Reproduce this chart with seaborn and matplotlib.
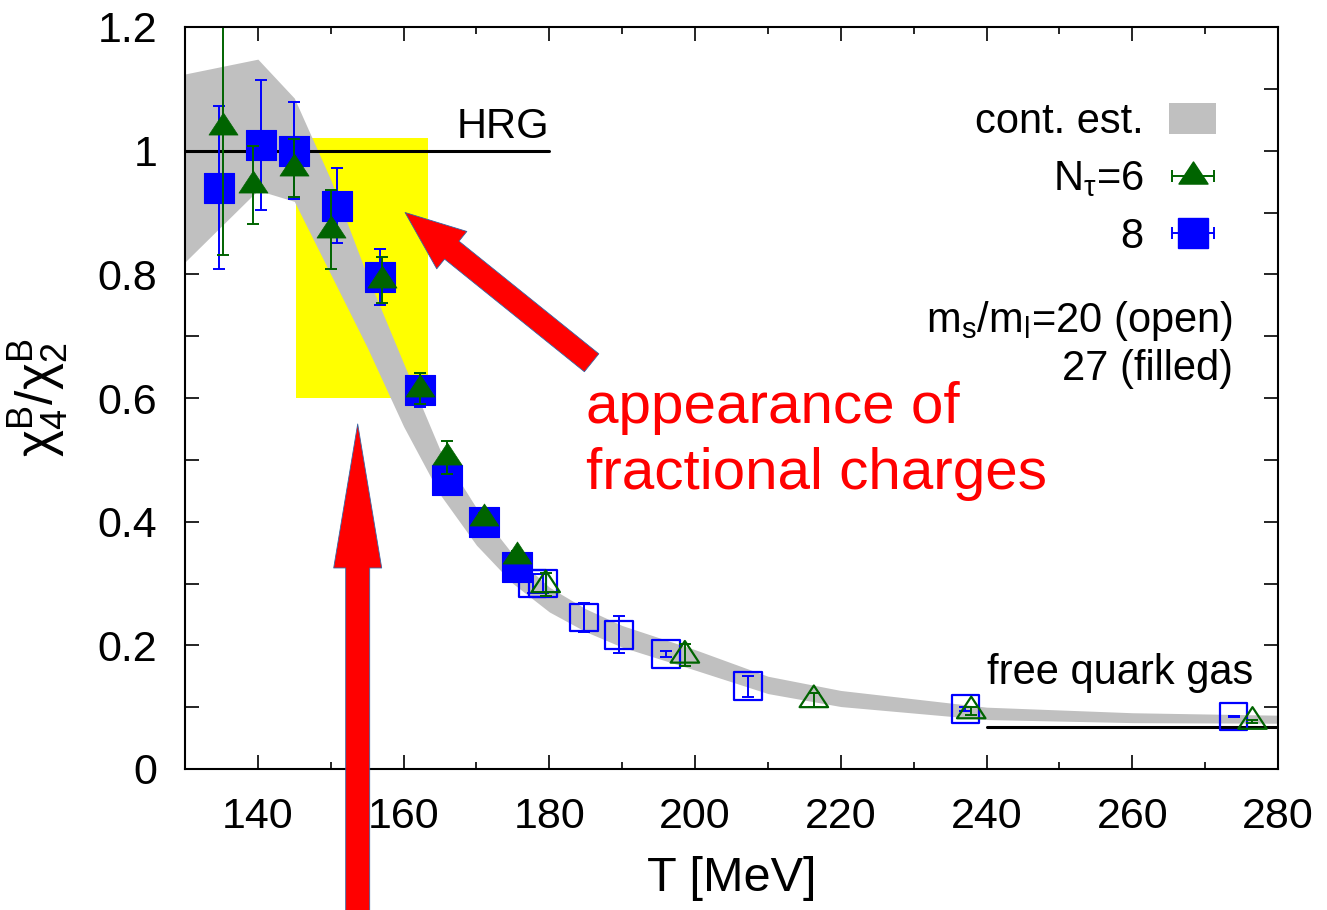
import numpy as np
import matplotlib
matplotlib.use("Agg")
import matplotlib.pyplot as plt
import seaborn as sns
from matplotlib.path import Path
from matplotlib.patches import Rectangle, FancyArrowPatch, Patch
from matplotlib.ticker import MultipleLocator, FuncFormatter

# ---------------- data ----------------
# continuum estimate (band edges)
band_T = [130, 140, 145, 150, 155, 160, 165, 170, 175, 180, 185, 190, 200, 210, 220, 240, 260, 280]
band_lo = [0.820, 0.936, 0.918, 0.800, 0.682, 0.554, 0.444, 0.362, 0.300, 0.254, 0.222, 0.197,
           0.160, 0.122, 0.101, 0.080, 0.075, 0.074]
band_hi = [1.124, 1.148, 1.085, 0.953, 0.798, 0.656, 0.516, 0.422, 0.347, 0.294, 0.259, 0.232,
           0.193, 0.150, 0.127, 0.100, 0.091, 0.087]

# N_tau = 8, m_s/m_l = 27 (filled squares)
T_n8_27 = [134.6, 140.4, 144.9, 150.9, 156.8, 162.25, 165.9, 171.0, 175.6]
chi_n8_27 = [0.940, 1.009, 1.000, 0.911, 0.796, 0.613, 0.468, 0.399, 0.326]
err_n8_27 = [0.132, 0.105, 0.078, 0.061, 0.045, 0.027, 0.010, 0.008, 0.008]

# N_tau = 6, m_s/m_l = 27 (filled triangles)
T_n6_27 = [135.2, 139.3, 145.0, 150.1, 157.1, 162.3, 165.9, 171.0, 175.6]
chi_n6_27 = [1.038, 0.944, 0.972, 0.872, 0.791, 0.615, 0.504, 0.406, 0.345]
err_n6_27 = [0.206, 0.063, 0.047, 0.064, 0.037, 0.025, 0.027, 0.008, 0.008]

# N_tau = 8, m_s/m_l = 20 (open squares)
T_n8_20 = [177.7, 179.1, 184.8, 189.6, 196.0, 207.3, 237.1, 273.9]
chi_n8_20 = [0.300, 0.300, 0.245, 0.217, 0.186, 0.134, 0.097, 0.085]
err_n8_20 = [0.015, 0.015, 0.023, 0.030, 0.005, 0.017, 0.003, 0.001]

# N_tau = 6, m_s/m_l = 20 (open triangles)
T_n6_20 = [179.5, 198.6, 216.3, 237.9, 276.5]
chi_n6_20 = [0.298, 0.184, 0.112, 0.094, 0.077]
err_n6_20 = [0.019, 0.018, 0.011, 0.007, 0.002]

# reference limits
hrg_T = [130, 180]
hrg_value = 1.0
sb_T = [240, 280]
sb_value = 0.0675

# highlighted temperature window
window_T = (145.2, 163.3)
window_chi = (0.60, 1.02)

# annotation arrows (tail, tip) in data units
arrow_diag = ((185.8, 0.657), (160.2, 0.900))
arrow_vert = ((153.7, -0.235), (153.7, 0.558))

# ---------------- style ----------------
sns.set_theme(style="ticks")
plt.rcParams["font.family"] = ["Liberation Sans", "DejaVu Sans"]
plt.rcParams["mathtext.fontset"] = "custom"
plt.rcParams["mathtext.rm"] = "Liberation Sans"
plt.rcParams["mathtext.it"] = "Liberation Sans:italic"
plt.rcParams["mathtext.bf"] = "Liberation Sans:bold"
plt.rcParams["text.color"] = "black"
plt.rcParams["axes.labelcolor"] = "black"
plt.rcParams["axes.edgecolor"] = "black"
plt.rcParams["xtick.color"] = "black"
plt.rcParams["ytick.color"] = "black"

BLUE = "#0000ff"
GREEN = "#006400"
GREY = "#c0c0c0"

fig = plt.figure(figsize=(13.27, 9.10), dpi=100, facecolor="white")
ax = fig.add_axes([185 / 1327, 141 / 910, 1093 / 1327, 742 / 910])

# flattened triangle marker, centred on its centroid
tri = Path([(0, 1.0), (-1, -0.52), (1, -0.52), (0, 1.0)], closed=True)

# highlighted window and continuum band
ax.add_patch(Rectangle((window_T[0], window_chi[0]), window_T[1] - window_T[0],
                       window_chi[1] - window_chi[0], facecolor="#ffff00",
                       edgecolor="none", zorder=1))
ax.fill_between(band_T, band_lo, band_hi, color=GREY, lw=0, zorder=2)

# HRG and free quark gas limits
ax.plot(hrg_T, [hrg_value] * len(hrg_T), color="black", lw=2.2, zorder=3)
ax.plot(sb_T, [sb_value] * len(sb_T), color="black", lw=2.2, zorder=3)

eb_kw = dict(fmt="none", elinewidth=1.4, capsize=4.3, capthick=1.4)

# filled symbols (m_s/m_l = 27)
sns.scatterplot(x=T_n8_27, y=chi_n8_27, marker="s", s=467, color=BLUE,
                edgecolor=BLUE, linewidth=0.8, ax=ax, zorder=4, legend=False)
ax.errorbar(T_n8_27, chi_n8_27, yerr=err_n8_27, ecolor=BLUE, zorder=5, **eb_kw)
sns.scatterplot(x=T_n6_27, y=chi_n6_27, marker=tri, s=437, color=GREEN,
                edgecolor=GREEN, linewidth=0.5, ax=ax, zorder=6, legend=False)
ax.errorbar(T_n6_27, chi_n6_27, yerr=err_n6_27, ecolor=GREEN, zorder=7, **eb_kw)

# open symbols (m_s/m_l = 20)
sns.scatterplot(x=T_n8_20, y=chi_n8_20, marker="s", s=400, color=BLUE,
                facecolor="none", edgecolor=BLUE, linewidth=1.6, ax=ax, zorder=8,
                legend=False)
ax.errorbar(T_n8_20, chi_n8_20, yerr=err_n8_20, ecolor=BLUE, zorder=9, **eb_kw)
sns.scatterplot(x=T_n6_20, y=chi_n6_20, marker=tri, s=420, color=GREEN,
                facecolor="none", edgecolor=GREEN, linewidth=1.6, ax=ax, zorder=10,
                legend=False)
ax.errorbar(T_n6_20, chi_n6_20, yerr=err_n6_20, ecolor=GREEN, zorder=11, **eb_kw)

# legend entries
h_band = Patch(facecolor=GREY, edgecolor="none")
h_n6 = ax.errorbar([np.nan], [np.nan], xerr=[1], marker=tri, markersize=20.9,
                   linestyle="none", color=GREEN, ecolor=GREEN, elinewidth=1.4,
                   capsize=4.3, capthick=1.4)
h_n8 = ax.errorbar([np.nan], [np.nan], xerr=[1], marker="s", markersize=21.6,
                   linestyle="none", color=BLUE, ecolor=BLUE, elinewidth=1.4,
                   capsize=4.3, capthick=1.4)
ax.legend([h_band, h_n6, h_n8], ["cont. est.", r"N$_\mathrm{\tau}$=6", "8"],
          loc="upper right", bbox_to_anchor=(0.9433, 0.899), bbox_transform=ax.transAxes,
          frameon=False, markerfirst=False, fontsize=30, handlelength=1.12,
          handleheight=0.75, handletextpad=0.62, labelspacing=0.42, borderpad=0,
          borderaxespad=0, numpoints=1)

# text labels
ax.text(180, 1.02, "HRG", ha="right", va="baseline", fontsize=30, zorder=12)
ax.text(240, 0.1375, "free quark gas", ha="left", va="baseline", fontsize=30, zorder=12)
ax.text(273.8, 0.707, r"m$_\mathrm{s}$/m$_\mathrm{l}$=20 (open)", ha="right",
        va="baseline", fontsize=30, zorder=12)
ax.text(273.8, 0.629, "27 (filled)", ha="right", va="baseline", fontsize=30, zorder=12)
ax.text(185.0, 0.5596, "appearance of", color="#ff0000", fontsize=42, ha="left",
        va="baseline", zorder=12)
ax.text(185.0, 0.453, "fractional charges", color="#ff0000", fontsize=42, ha="left",
        va="baseline", zorder=12)

# red arrows (sizes in pixels via mutation_scale)
px = 72 / fig.dpi
for (tail, tip), (hl, hw, tw) in [(arrow_diag, (60, 48, 23)), (arrow_vert, (144, 48, 24))]:
    arr = FancyArrowPatch(tail, tip, transform=ax.transData,
                          arrowstyle=f"simple,head_length={hl},head_width={hw},tail_width={tw}",
                          mutation_scale=px, shrinkA=0, shrinkB=0,
                          facecolor="#ff0000", edgecolor="#3465a4", linewidth=0.6,
                          clip_on=False, zorder=30)
    ax.add_patch(arr)

# axes
ax.set_xlim(130, 280)
ax.set_ylim(0, 1.2)
ax.xaxis.set_major_locator(MultipleLocator(20))
ax.xaxis.set_minor_locator(MultipleLocator(10))
ax.yaxis.set_major_locator(MultipleLocator(0.2))
ax.yaxis.set_minor_locator(MultipleLocator(0.1))
ax.yaxis.set_major_formatter(FuncFormatter(lambda v, p: f"{v:g}"))
ax.xaxis.set_major_formatter(FuncFormatter(lambda v, p: "" if v < 135 else f"{v:g}"))
ax.tick_params(which="both", direction="in", top=True, right=True, width=1.2,
               labelsize=31, pad=20)
ax.tick_params(which="major", length=10)
ax.tick_params(axis="x", which="minor", length=5)
ax.tick_params(axis="y", which="minor", length=10)
for sp in ax.spines.values():
    sp.set_linewidth(1.5)
    sp.set_color("black")
    sp.set_zorder(13)

ax.set_xlabel("T [MeV]", fontsize=35, labelpad=14)
ax.set_ylabel(r"$\mathrm{\chi}_4^\mathrm{B}/\mathrm{\chi}_2^\mathrm{B}$", fontsize=37)
ax.yaxis.set_label_coords(-0.104, 0.5)

fig.savefig("out.png", dpi=100, facecolor="white")
